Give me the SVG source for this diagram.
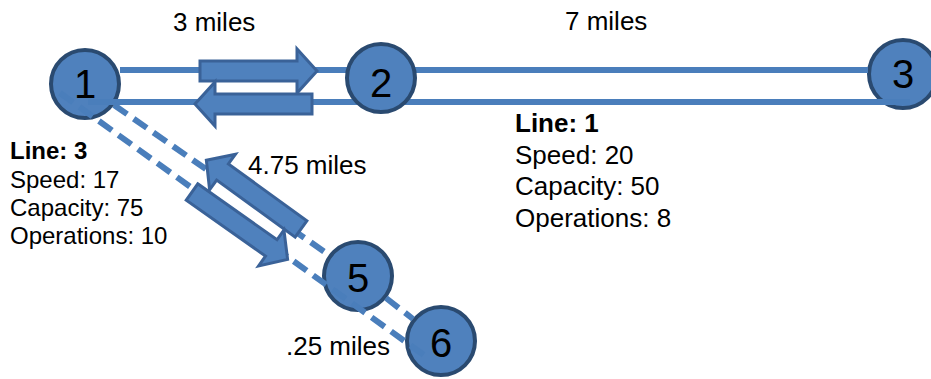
<svg xmlns="http://www.w3.org/2000/svg" xmlns:xlink="http://www.w3.org/1999/xlink" width="931" height="379" viewBox="0 0 931 379">
<style>
.node circle{fill:#4f81bd;stroke:#2a4a70;stroke-width:4}
.node text{font-family:"Liberation Sans",Arial,sans-serif;font-size:40px;fill:#000;text-anchor:middle}
.line{stroke:#4a7ebb;stroke-width:6;fill:none}
.dash{stroke:#4a7ebb;stroke-width:6;fill:none;stroke-dasharray:16 8}
.arrow{fill:#4f81bd;stroke:#3a6298;stroke-width:3;stroke-linejoin:miter}
.lbl{font-family:"Liberation Sans",Arial,sans-serif;font-size:26px;fill:#000}
.infoL{font-family:"Liberation Sans",Arial,sans-serif;font-size:24px;fill:#000}
.infoR{font-family:"Liberation Sans",Arial,sans-serif;font-size:26px;fill:#000}
.b{font-weight:bold}
</style>
<defs>
<path id="blk" d="M0,-10 L97,-10 L97,-22 L117,0 L97,22 L97,10 L0,10 Z"/>
</defs>
<g id="node1" class="node"><circle cx="85" cy="84" r="34"/><text x="85" y="98">1</text></g>
<g id="node3" class="node"><circle cx="903" cy="74" r="34"/><text x="903" y="88">3</text></g>
<g id="node5" class="node"><circle cx="358" cy="276" r="34"/><text x="358" y="292">5</text></g>
<g id="node6" class="node"><circle cx="441" cy="341" r="34"/><text x="441" y="357">6</text></g>
<g id="connectors">
<line class="line" x1="120" y1="70" x2="868" y2="70"/>
<line class="line" x1="88" y1="102" x2="910" y2="102"/>
<line class="dash" x1="114" y1="105" x2="329" y2="255"/>
<line class="dash" x1="386" y1="298" x2="413" y2="319"/>
<line class="dash" x1="60" y1="93" x2="428" y2="358"/>
<use href="#blk" xlink:href="#blk" class="arrow" transform="translate(200,71)"/>
<use href="#blk" xlink:href="#blk" class="arrow" transform="translate(312,104) rotate(180)"/>
<use href="#blk" xlink:href="#blk" class="arrow" transform="translate(301,229) rotate(216)"/>
<use href="#blk" xlink:href="#blk" class="arrow" transform="translate(192,192) rotate(35.2)"/>
</g>
<g id="node2" class="node"><circle cx="381" cy="78" r="34"/><text x="381" y="97">2</text></g>
<g id="labels">
<text class="lbl" x="173" y="31">3 miles</text>
<text class="lbl" x="565" y="30">7 miles</text>
<text class="lbl" x="248" y="174">4.75 miles</text>
<text class="lbl" x="286" y="355">.25 miles</text>
</g>
<g id="info3" class="infoL">
<text x="10" y="159" class="b">Line: 3</text>
<text x="10" y="188">Speed: 17</text>
<text x="10" y="216">Capacity: 75</text>
<text x="10" y="244">Operations: 10</text>
</g>
<g id="info1" class="infoR">
<text x="515" y="132" class="b">Line: 1</text>
<text x="515" y="164">Speed: 20</text>
<text x="515" y="195">Capacity: 50</text>
<text x="515" y="227">Operations: 8</text>
</g>
</svg>
